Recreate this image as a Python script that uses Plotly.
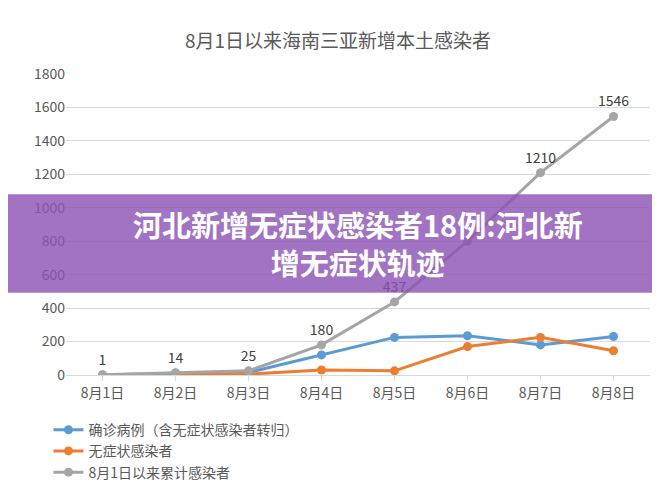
import plotly.graph_objects as go

dates = ["8月1日","8月2日","8月3日","8月4日","8月5日","8月6日","8月7日","8月8日"]
confirmed = [0, 10, 15, 120, 225, 235, 180, 230]
asym = [None, 5, 5, 30, 25, 170, 225, 145]
cumulative = [1, 14, 25, 180, 437, 800, 1210, 1546]
cum_labels = ["1","14","25","180","437","","1210","1546"]

fig = go.Figure()
fig.add_trace(go.Scatter(x=dates, y=confirmed, name="确诊病例（含无症状感染者转归）",
    mode="lines+markers", line=dict(color="#5b9bd5", width=3), marker=dict(size=9)))
fig.add_trace(go.Scatter(x=dates, y=asym, name="无症状感染者",
    mode="lines+markers", line=dict(color="#ed7d31", width=3), marker=dict(size=9)))
fig.add_trace(go.Scatter(x=dates, y=cumulative, name="8月1日以来累计感染者",
    mode="lines+markers+text", text=cum_labels, textposition="top center",
    textfont=dict(size=14, color="#404040"),
    line=dict(color="#a5a5a5", width=3), marker=dict(size=9)))

fig.add_shape(type="rect", xref="paper", yref="paper", x0=-0.2, x1=1.2,
    y0=(384-297)/318, y1=(384-193)/318, fillcolor="rgba(140,80,180,0.8)",
    line=dict(width=0), layer="above")
fig.add_annotation(xref="paper", yref="paper", x=0.5, xanchor="center",
    y=(384-245)/318, yanchor="middle", showarrow=False,
    text="<b>河北新增无症状感染者18例:河北新<br>增无症状轨迹</b>",
    font=dict(size=29, color="white"), align="center")

fig.update_layout(
    width=660, height=492, paper_bgcolor="white", plot_bgcolor="white",
    font=dict(family="Noto Sans CJK SC", color="#595959", size=13),
    title=dict(text="8月1日以来海南三亚新增本土感染者", x=0.5, y=0.945,
               font=dict(size=19, color="#595959")),
    margin=dict(l=58, r=18, t=66, b=108),
    xaxis=dict(type="category", range=[-0.5, 7.5], showline=True,
               linecolor="#d9d9d9", ticks="outside", tickcolor="#d9d9d9",
               tickfont=dict(size=14)),
    yaxis=dict(range=[0, 1800], dtick=200, gridcolor="#d9d9d9",
               zeroline=False, tickfont=dict(size=14)),
    legend=dict(orientation="h", x=-0.03, y=-0.13, yanchor="top",
                entrywidth=290, font=dict(size=14)),
    showlegend=True,
)
fig.write_html("out.html")
